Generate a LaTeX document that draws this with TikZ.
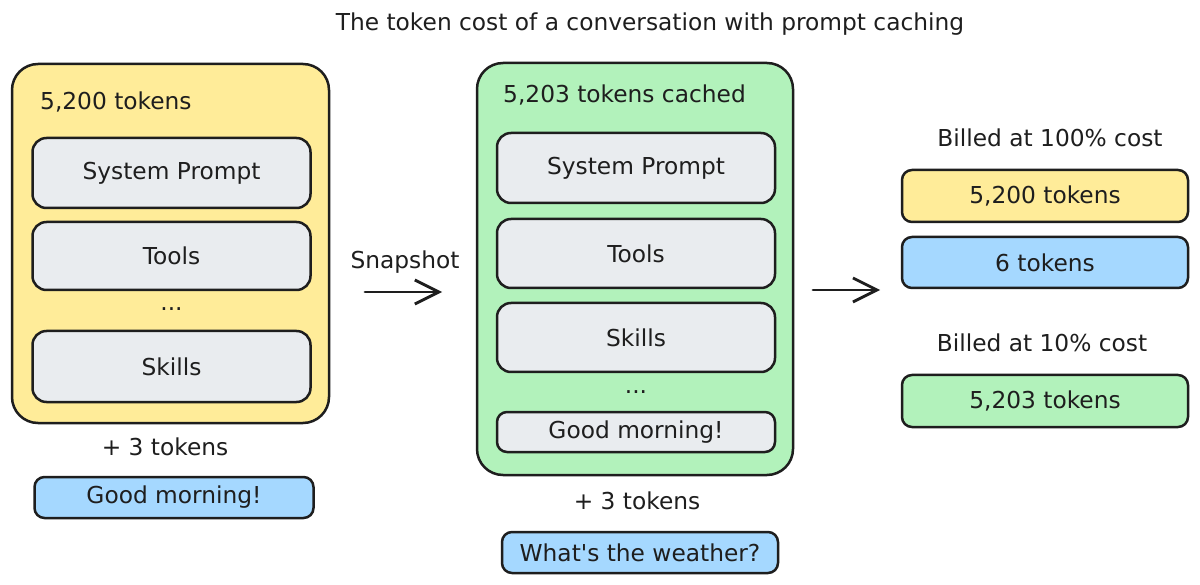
\documentclass[tikz,border=0pt]{standalone}
\usepackage{fontspec}
\setmainfont{DejaVu Sans}
\usetikzlibrary{arrows.meta}
\definecolor{ink}{HTML}{1E1E1E}
\definecolor{cyellow}{HTML}{FFEC99}
\definecolor{cgreen}{HTML}{B2F2BB}
\definecolor{cblue}{HTML}{A5D8FF}
\definecolor{cgrey}{HTML}{E9ECEF}
\tikzset{
  txt/.style={inner sep=0pt, text=ink, font=\fontsize{23.3}{28}\selectfont},
  bigbox/.style={draw=ink, line width=2.5pt, rounded corners=26pt, inner sep=0pt},
  itembox/.style={draw=ink, line width=2.5pt, rounded corners=14pt, fill=cgrey, inner sep=0pt, text=ink, font=\fontsize{23.3}{28}\selectfont},
  pill/.style={draw=ink, line width=2.5pt, rounded corners=10pt, inner sep=0pt, text=ink, font=\fontsize{23.3}{28}\selectfont},
  arr/.style={draw=ink, line width=2.8pt, line cap=round, -{Straight Barb[length=24pt,width=24pt,line width=2.8pt]}}
}
\begin{document}
\begin{tikzpicture}[x=1pt,y=-1pt]
\useasboundingbox[fill=white] (0,0) rectangle (1200,585);
% title
\node[txt] (title) at (650,24) {The token cost of a conversation with prompt caching};
% left column
\node[bigbox, fill=cyellow, minimum width=317pt, minimum height=359pt] (Lbig) at (170.5,243.5) {};
\node[txt, anchor=west] (Llab) at (40,102) {5,200 tokens};
\node[itembox, minimum width=278pt, minimum height=70pt] (Lsys) at (171.5,173) {System Prompt};
\node[itembox, minimum width=278pt, minimum height=68pt] (Ltools) at (171.5,256) {Tools};
\node[txt, anchor=base] (Ldots) at (171.5,311) {...};
\node[itembox, minimum width=278pt, minimum height=71pt] (Lskills) at (171.5,366.5) {Skills};
\node[txt] (Lplus) at (165,447) {+ 3 tokens};
\node[pill, fill=cblue, minimum width=279pt, minimum height=41pt] (Lgood) at (174,497.5) {Good morning!};
% snapshot arrow
\node[txt] (snap) at (405,262) {Snapshot};
\coordinate (a1s) at (365,292);
\coordinate (a1e) at (442,292);
\draw[arr] (a1s) -- (a1e);
% middle column
\node[bigbox, fill=cgreen, minimum width=316pt, minimum height=412pt] (Mbig) at (635,269) {};
\node[txt, anchor=west] (Mlab) at (503,95) {5,203 tokens cached};
\node[itembox, minimum width=278pt, minimum height=70pt] (Msys) at (636,168) {System Prompt};
\node[itembox, minimum width=278pt, minimum height=69pt] (Mtools) at (636,253.5) {Tools};
\node[itembox, minimum width=278pt, minimum height=69pt] (Mskills) at (636,337.5) {Skills};
\node[txt, anchor=base] (Mdots) at (636,394) {...};
\node[itembox, rounded corners=10pt, minimum width=278pt, minimum height=40pt] (Mgood) at (636,432) {Good morning!};
\node[txt] (Mplus) at (637,501) {+ 3 tokens};
\node[pill, fill=cblue, minimum width=276pt, minimum height=41pt] (Mweather) at (640,552.5) {What\textquotesingle s the weather?};
% result arrow
\coordinate (a2s) at (813,290);
\coordinate (a2e) at (880,290);
\draw[arr] (a2s) -- (a2e);
% right column
\node[txt] (R100) at (1050,138) {Billed at 100\% cost};
\node[pill, fill=cyellow, minimum width=286pt, minimum height=52pt] (Ry) at (1045,196) {5,200 tokens};
\node[pill, fill=cblue, minimum width=286pt, minimum height=51pt] (Rb) at (1045,262.5) {6 tokens};
\node[txt] (R10) at (1042,343) {Billed at 10\% cost};
\node[pill, fill=cgreen, minimum width=286pt, minimum height=52pt] (Rg) at (1045,401) {5,203 tokens};
\end{tikzpicture}
\end{document}
